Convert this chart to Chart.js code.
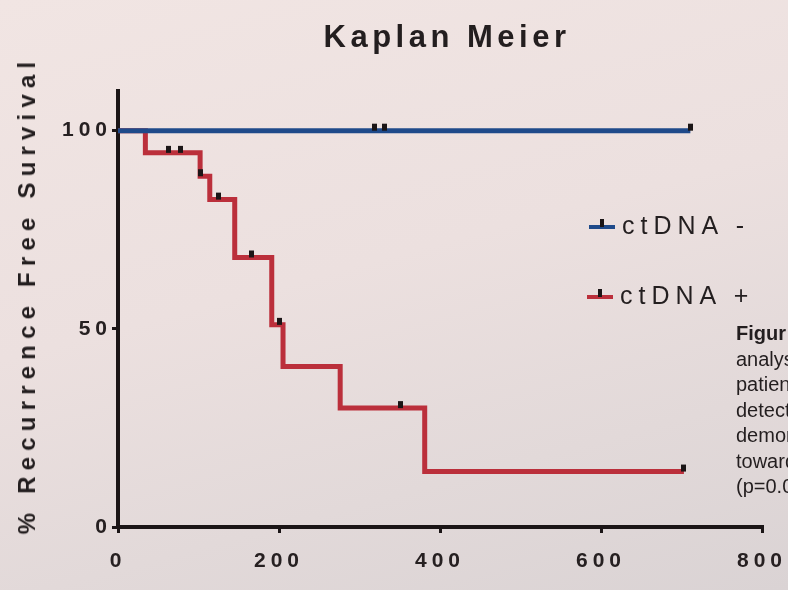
<!DOCTYPE html>
<html>
<head>
<meta charset="utf-8">
<script src="https://cdn.jsdelivr.net/npm/chart.js@4.4.1/dist/chart.umd.min.js"></script>
<style>
  html, body { margin: 0; padding: 0; }
  body {
    width: 788px; height: 590px; overflow: hidden; position: relative;
    background: linear-gradient(165deg, #f1e5e3 0%, #ece0df 45%, #e2d9d9 75%, #dad3d4 100%);
    font-family: "Liberation Sans", Arial, sans-serif;
    color: #231e1f;
  }
  #chart { position: absolute; left: 0; top: 0; }
  .title {
    position: absolute; left: 0; width: 894px; top: 19px; text-align: center;
    font-size: 31px; font-weight: bold; letter-spacing: 4.5px;
  }
  .ytitle {
    position: absolute; left: 27px; top: 295px; white-space: nowrap;
    transform: translate(-50%, -50%) rotate(-90deg);
    font-size: 24px; font-weight: bold; letter-spacing: 6.2px;
  }
  .legend { position: absolute; font-size: 25px; letter-spacing: 6px; white-space: nowrap; }
  .legend .mark { display: inline-block; position: relative; width: 26px; height: 4px; margin-right: 7px; vertical-align: middle; }
  .legend .mark::after { content: ""; position: absolute; left: 11px; top: -6px; width: 4px; height: 8px; background: #1b1516; }
  .caption { position: absolute; left: 736px; top: 321px; font-size: 20px; line-height: 25.5px; white-space: nowrap; }
</style>
</head>
<body>
<canvas id="chart" width="788" height="590"></canvas>
<div class="title">Kaplan Meier</div>
<div class="ytitle">% Recurrence Free Survival</div>
<div class="legend" style="left:589px; top:211px;"><span class="mark" style="background:#1f4a8a"></span>ctDNA -</div>
<div class="legend" style="left:587px; top:281px;"><span class="mark" style="background:#bb2f3b"></span>ctDNA +</div>
<div class="caption"><b>Figur</b><br>analys<br>patien<br>detect<br>demor<br>toward<br>(p=0.0</div>
<script>
// Kaplan-Meier steps (days, % recurrence free survival)
const negTimes = [0, 711];
const negValues = [100, 100];
const negCensorTimes = [319, 331, 711];
const negCensorValues = [100, 100, 100];

const posTimes = [0, 34, 102, 114, 145, 191, 205, 276, 381, 703];
const posValues = [100, 94.4, 88.5, 82.6, 68, 51, 40.5, 30, 14, 14];
const posCensorTimes = [63, 78, 103, 125, 166, 201, 351, 703];
const posCensorValues = [94.4, 94.4, 88.5, 82.6, 68, 51, 30, 14];

const xTicks = [0, 200, 400, 600, 800];
const yTicks = [0, 50, 100];

function toPoints(xs, ys) {
    return xs.map((x, i) => ({ x: x, y: ys[i] }));
}

// censor tick: small black bar sitting on top of the line
function censorMark() {
    const c = document.createElement("canvas");
    c.width = 5;
    c.height = 16;
    const g = c.getContext("2d");
    g.fillStyle = "#1b1516";
    g.fillRect(0, 1, 5, 7);
    return c;
}
const mark = censorMark();

const spacing = {
    id: "spacing",
    beforeDraw(chart) {
        chart.ctx.letterSpacing = "5px";
    },
};

const tickFont = { family: "Liberation Sans", size: 21, weight: "bold" };

new Chart(document.getElementById("chart"), {
    type: "scatter",
    data: {
        datasets: [
            {
                label: "ctDNA - censored",
                data: toPoints(negCensorTimes, negCensorValues),
                pointStyle: mark,
                order: 0,
            },
            {
                label: "ctDNA + censored",
                data: toPoints(posCensorTimes, posCensorValues),
                pointStyle: mark,
                order: 1,
            },
            {
                label: "ctDNA -",
                data: toPoints(negTimes, negValues),
                showLine: true,
                stepped: "before",
                borderColor: "#1f4a8a",
                borderWidth: 5,
                pointRadius: 0,
                order: 2,
            },
            {
                label: "ctDNA +",
                data: toPoints(posTimes, posValues),
                showLine: true,
                stepped: "before",
                borderColor: "#bb2f3b",
                borderWidth: 5,
                pointRadius: 0,
                order: 3,
            },
        ],
    },
    options: {
        responsive: false,
        animation: false,
        layout: { padding: { left: 0, top: 91, right: 26, bottom: 0 } },
        plugins: {
            legend: { display: false },
            tooltip: { enabled: false },
        },
        scales: {
            x: {
                type: "linear",
                min: 0,
                max: 800,
                afterBuildTicks: (s) => { s.ticks = xTicks.map((v) => ({ value: v })); },
                afterFit: (s) => { s.height = 63; s.paddingLeft = 0; s.paddingRight = 0; },
                border: { color: "#1b1516", width: 4 },
                grid: { drawOnChartArea: false, tickLength: 6, lineWidth: 3, color: "#1b1516" },
                ticks: { padding: 16, color: "#262021", font: tickFont },
            },
            y: {
                min: 0,
                max: 110,
                afterBuildTicks: (s) => { s.ticks = yTicks.map((v) => ({ value: v })); },
                afterFit: (s) => { s.width = 118; s.paddingTop = 0; s.paddingBottom = 0; },
                border: { color: "#1b1516", width: 4 },
                grid: { drawOnChartArea: false, tickLength: 6, lineWidth: 3, color: "#1b1516" },
                ticks: { padding: 0, color: "#262021", font: tickFont },
            },
        },
    },
    plugins: [spacing],
});
</script>
</body>
</html>
